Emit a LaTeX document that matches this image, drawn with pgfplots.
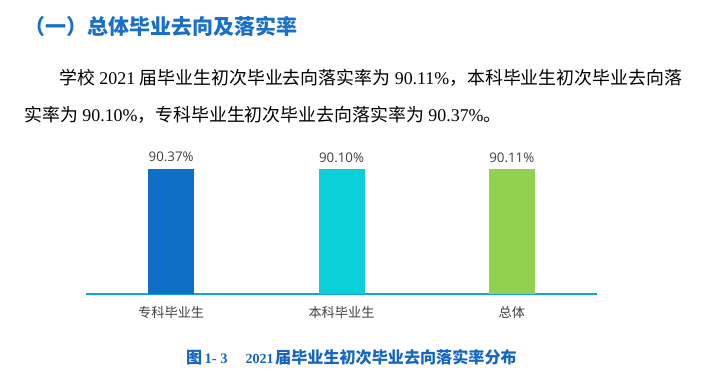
\documentclass[border=0pt]{standalone}
\usepackage{fontspec}
\setmainfont{Liberation Serif}
\newfontfamily\cjk{Noto Sans CJK SC}
\newfontfamily\lbl{Open Sans}
\usepackage{pgfplots}
\pgfplotsset{compat=1.18}
\definecolor{headblue}{HTML}{1A6FC6}
\definecolor{capblue}{HTML}{1566C0}
\definecolor{cA}{HTML}{0F6FC6}
\definecolor{cB}{HTML}{0BD0D9}
\definecolor{cC}{HTML}{92D050}
\definecolor{axblue}{HTML}{12A3DE}
\definecolor{tgray}{HTML}{404040}
\begin{document}
\begin{tikzpicture}[x=1pt,y=1pt]
\path[use as bounding box] (0,0) rectangle (728,381);
% heading
\node[anchor=west,inner sep=0,text=headblue,font=\cjk\bfseries\fontsize{21}{25}\selectfont] at (24,355) {（一）总体毕业去向及落实率};
% paragraph
\node[anchor=base west,inner sep=0,font=\fontsize{17.9}{22}\selectfont] at (59,296)
  {{\cjk 学校} 2021 {\cjk 届毕业生初次毕业去向落实率为} 90.11\%{\cjk ，本科毕业生初次毕业去向落}};
\node[anchor=base west,inner sep=0,font=\fontsize{17.9}{22}\selectfont] at (24,259)
  {{\cjk 实率为} 90.10\%{\cjk ，专科毕业生初次毕业去向落实率为} 90.37\%{\cjk 。}};
% caption
\node[anchor=base west,inner sep=0,text=capblue,font=\cjk\bfseries\fontsize{16.1}{19}\selectfont] at (186,18) {图};
\node[anchor=base west,inner sep=0,text=capblue,font=\bfseries\fontsize{14.5}{17}\selectfont] at (204.5,18) {1- 3};
\node[anchor=base west,inner sep=0,text=capblue,font=\bfseries\fontsize{14}{17}\selectfont] at (245.5,18) {2021};
\node[anchor=base west,inner sep=0,text=capblue,font=\cjk\bfseries\fontsize{16.1}{19}\selectfont] at (275,18) {届毕业生初次毕业去向落实率分布};
\begin{axis}[
  at={(86pt,87pt)}, anchor=south west,
  scale only axis, width=511pt, height=138.3pt,
  xmin=-0.5, xmax=2.5, ymin=0, ymax=100,
  clip=false,
  axis x line=bottom, axis y line=none,
  x axis line style={-, draw=axblue, line width=1.6pt},
  xtick={0,1,2},
  xticklabels={专科毕业生,本科毕业生,总体},
  major tick length=0pt,
  xticklabel style={font=\cjk\fontsize{13.2}{15}\selectfont, text=tgray, anchor=base, yshift=-23pt},
  ybar, bar width=46pt,
  /pgf/number format/assume math mode=true,
  nodes near coords={\pgfmathprintnumber[fixed,fixed zerofill,precision=2,assume math mode=true]{\pgfplotspointmeta}\%},
  nodes near coords style={font=\lbl\fontsize{13.3}{15}\selectfont, text=tgray, anchor=base, yshift=7.3pt, inner sep=0pt},
]
\addplot[fill=cA, draw=none, bar shift=0pt] coordinates {(0,90.37)};
\addplot[fill=cB, draw=none, bar shift=0pt] coordinates {(1,90.10)};
\addplot[fill=cC, draw=none, bar shift=0pt] coordinates {(2,90.11)};
\end{axis}
\end{tikzpicture}
\end{document}
